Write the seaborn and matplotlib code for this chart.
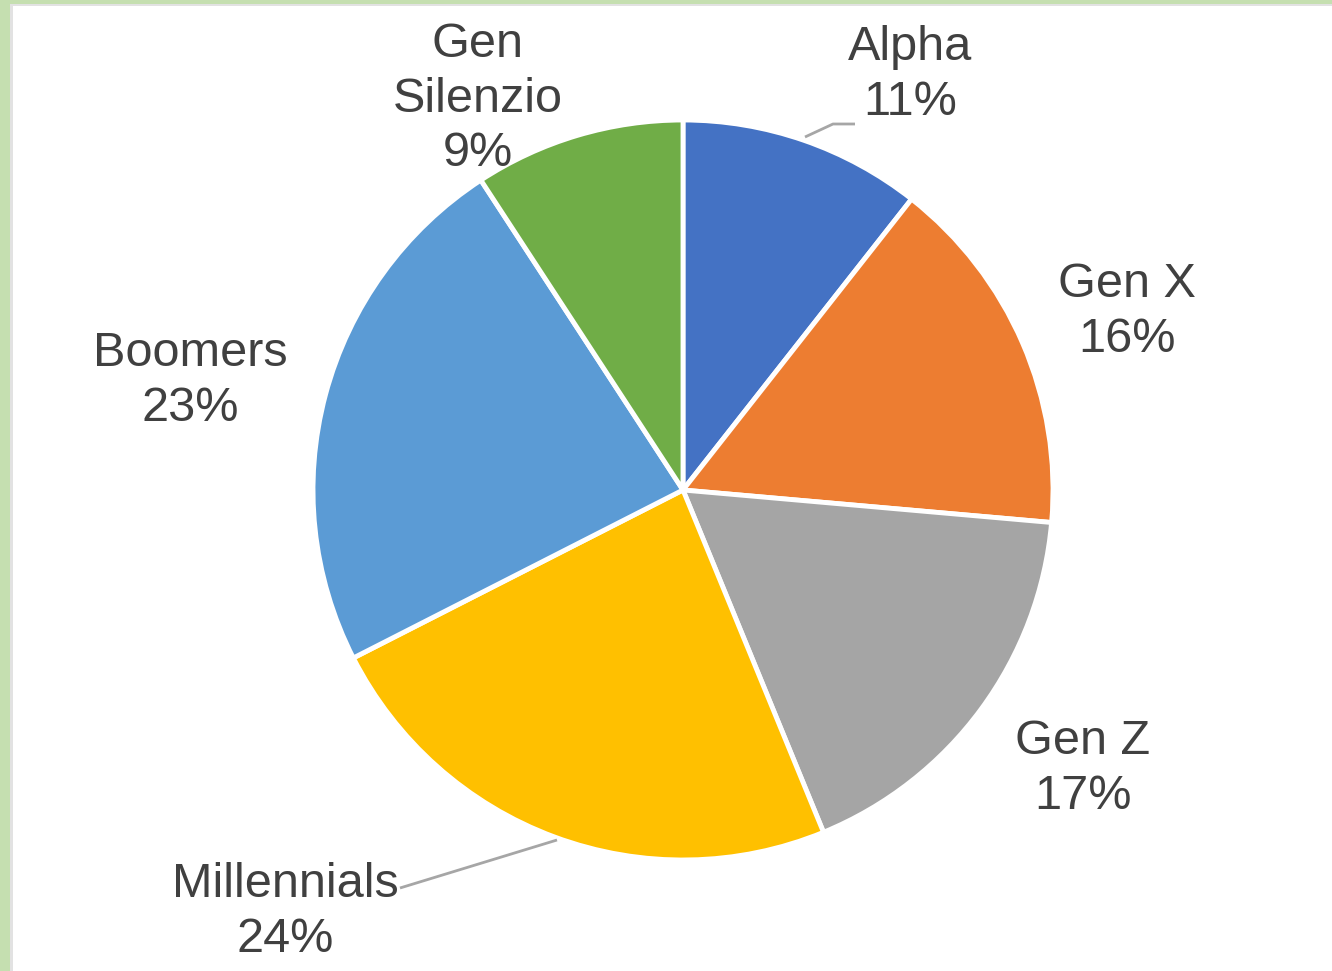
import matplotlib
matplotlib.use("Agg")
import matplotlib.pyplot as plt
import seaborn as sns
import numpy as np
from matplotlib.patches import Rectangle

categories = ["Alpha", "Gen X", "Gen Z", "Millennials", "Boomers", "Gen Silenzio"]
values = [10.6, 15.8, 17.4, 23.7, 23.3, 9.2]
label_texts = ["Alpha\n11%", "Gen X\n16%", "Gen Z\n17%", "Millennials\n24%", "Boomers\n23%", "Gen\nSilenzio\n9%"]
colors = ["#4472C4", "#ED7D31", "#A5A5A5", "#FFC000", "#5B9BD5", "#70AD47"]

sns.set_theme(style="white")
plt.rcParams['font.family'] = ['Liberation Sans', 'DejaVu Sans']

W, H = 1332, 971
fig = plt.figure(figsize=(W / 100, H / 100), dpi=100)
fig.patch.set_facecolor("white")
ax = fig.add_axes([0, 0, 1, 1])

cx, cy, r = 683, 971 - 490, 370
palette = sns.color_palette(colors)
wedges, _ = ax.pie(values, colors=palette, startangle=90, counterclock=False,
                   center=(cx, cy), radius=r,
                   wedgeprops=dict(edgecolor="white", linewidth=3.5))

ax.set_xlim(0, W)
ax.set_ylim(0, H)
ax.set_aspect("equal")
ax.axis("off")

# label positions (pixel coords from top)
label_pos = [(910, 75), (1127, 312), (1083, 769), (285, 912), (190, 381), (478, 99)]
for txt, (x, y) in zip(label_texts, label_pos):
    ax.text(x, H - y, txt, ha="center", va="center", fontsize=35,
            color="#404040", linespacing=1.28)

# leader lines
ax.plot([805, 833, 855], [H - 137, H - 124, H - 124], color="#A6A6A6", lw=2, solid_capstyle="butt")
ax.plot([557, 400], [H - 840, H - 888], color="#A6A6A6", lw=2, solid_capstyle="butt")

# green frame border (left and top)
fig.patches.append(Rectangle((0, 0), 10 / W, 1, transform=fig.transFigure,
                             facecolor="#C5DFB0", edgecolor="none", zorder=5))
fig.patches.append(Rectangle((10 / W, 0), 3 / W, 1 - 6 / H, transform=fig.transFigure,
                             facecolor="#E2E2E2", edgecolor="none", zorder=5))
fig.patches.append(Rectangle((0, 1 - 4 / H), 1, 4 / H, transform=fig.transFigure,
                             facecolor="#C5DFB0", edgecolor="none", zorder=5))
fig.patches.append(Rectangle((10 / W, 1 - 6 / H), 1, 2 / H, transform=fig.transFigure,
                             facecolor="#E2E2E2", edgecolor="none", zorder=5))

fig.savefig("out.png", dpi=100)
